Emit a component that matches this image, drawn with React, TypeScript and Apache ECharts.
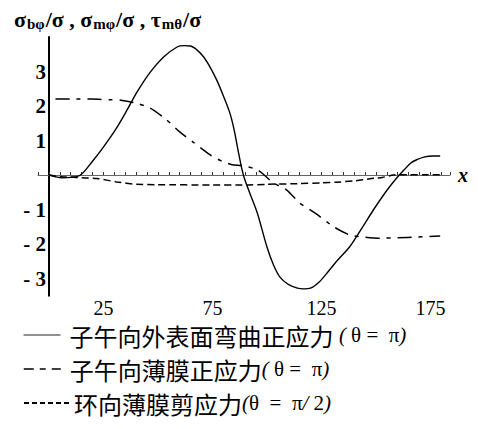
import React, { useEffect, useRef } from "react";
import * as echarts from "echarts";

// Series data
const bendX = [0, 3, 6, 10, 14.5, 20, 25, 31, 36, 40.4, 46.5, 52.6, 58.8, 62, 65, 68, 71, 74, 77, 80, 83, 85, 87, 89.2, 92, 95.6, 100, 103, 106, 110, 114, 117, 120, 124, 127.6, 132, 138, 143, 149, 155, 160, 163, 166, 169, 172, 176, 179.5];
const bendY = [0, -0.05, -0.08, -0.07, 0, 0.4, 0.81, 1.36, 1.9, 2.4, 2.98, 3.42, 3.71, 3.75, 3.74, 3.62, 3.42, 3.12, 2.75, 2.3, 1.8, 1.3, 0.64, 0, -0.5, -1.1, -2.08, -2.6, -2.96, -3.18, -3.28, -3.3, -3.28, -3.1, -2.84, -2.5, -2.08, -1.6, -1.0, -0.45, -0.05, 0.15, 0.35, 0.45, 0.52, 0.55, 0.55];

const memX = [3, 10, 20, 28, 33, 39, 46.5, 54, 60, 66, 74, 80, 84, 89, 96, 103, 109, 115, 122, 130.6, 138, 145, 152, 160, 169, 179.5];
const memY = [2.2, 2.2, 2.2, 2.18, 2.17, 2.1, 1.94, 1.6, 1.25, 0.96, 0.58, 0.38, 0.3, 0.27, 0.14, -0.23, -0.43, -0.81, -1.1, -1.5, -1.74, -1.8, -1.83, -1.82, -1.8, -1.77];

const shearX = [0, 5, 10, 15, 22, 31, 40, 50, 75, 90, 100, 114, 125, 132, 140, 146, 150, 153, 158, 165, 172, 180];
const shearY = [0, -0.05, -0.06, -0.08, -0.1, -0.2, -0.27, -0.28, -0.29, -0.29, -0.27, -0.25, -0.23, -0.21, -0.17, -0.12, -0.09, -0.07, 0, 0.01, 0.01, 0.01];

const xLabelValues = [25, 75, 125, 175];
const yLabelValues = [-3, -2, -1, 1, 2, 3];

const seriesNames = [
  "子午向外表面弯曲正应力 ( θ =  π)",
  "子午向薄膜正应力( θ =  π)",
  "环向薄膜剪应力(θ  =  π/ 2)",
];

const zip = (xs: number[], ys: number[]) => xs.map((x, i) => [x, ys[i]]);

export default function App() {
  const ref = useRef<HTMLDivElement>(null);
  useEffect(() => {
    document.body.style.margin = "0";
    const chart = echarts.init(ref.current!, undefined, { renderer: "svg" });
    const serif = "'Liberation Serif', 'DejaVu Serif', serif";
    const cjk = "'Noto Sans CJK SC', sans-serif";
    const fmt = (name: string) => {
      const idx = name.indexOf("(");
      const rest = name
        .slice(idx)
        .split("")
        .map((c) => ("()/".includes(c) ? `{ip|${c}}` : `{up|${c}}`))
        .join("");
      return `{cn|${name.slice(0, idx)}}${rest}`;
    };
    const legendRich = (pad: number) => ({
      cn: { fontFamily: cjk, fontSize: 24, color: "#000", lineHeight: 28, padding: [0, 0, 0, pad] },
      ip: { fontFamily: serif, fontStyle: "italic", fontSize: 21, color: "#000", lineHeight: 28 },
      up: { fontFamily: serif, fontSize: 21, color: "#000", lineHeight: 28 },
    });
    const legendBase = {
      left: 18,
      itemHeight: 14,
      formatter: fmt,
      itemStyle: { opacity: 0 },
    };
    const option: any = {
      animation: false,
      backgroundColor: "#fff",
      title: {
        left: 9,
        top: 2,
        text: "{s|σ}{sub|bφ}{s|/σ , σ}{sub|mφ}{s|/σ , τ}{sub|mθ}{s|/σ}",
        textStyle: {
          rich: {
            s: { fontFamily: serif, fontWeight: "bold", fontSize: 22, color: "#000", lineHeight: 24 },
            sub: { fontFamily: serif, fontWeight: "bold", fontSize: 15, color: "#000", lineHeight: 15, verticalAlign: "bottom", padding: [0, 1, 0, 1] },
          },
        },
      },
      grid: { left: 38, right: 28, top: 37, bottom: 133.25 },
      xAxis: {
        type: "value",
        min: -5,
        max: 184,
        interval: 5,
        name: "x",
        nameGap: 8,
        nameTextStyle: { fontFamily: serif, fontStyle: "italic", fontWeight: "bold", fontSize: 20, color: "#000" },
        axisLine: { onZero: true, lineStyle: { color: "#666", width: 1 } },
        axisTick: { show: true, inside: true, length: 3, lineStyle: { color: "#333" } },
        axisLabel: {
          formatter: (v: number) => (xLabelValues.includes(v) ? String(v) : ""),
          fontFamily: serif,
          fontSize: 20,
          color: "#000",
          margin: 2,
        },
        splitLine: { show: false },
      },
      yAxis: {
        type: "value",
        min: -3.5,
        max: 4,
        interval: 0.5,
        axisLine: { show: true, onZero: true, lineStyle: { color: "#000", width: 2 } },
        axisTick: { show: false },
        axisLabel: {
          formatter: (v: number) => (yLabelValues.includes(v) ? (v < 0 ? "- " + -v : String(v)) : ""),
          fontFamily: serif,
          fontWeight: "bold",
          fontSize: 21,
          color: "#000",
          margin: -8,
        },
        splitLine: { show: false },
      },
      legend: [
        {
          ...legendBase,
          data: [seriesNames[0]], top: 318, itemWidth: 37,
          lineStyle: { width: 1, color: "#222" },
          textStyle: { rich: legendRich(4) },
        },
        {
          ...legendBase,
          data: [seriesNames[1]], top: 352, itemWidth: 37,
          lineStyle: { width: 1.5, type: [10, 6, 6, 6] },
          textStyle: { rich: legendRich(4) },
        },
        {
          ...legendBase,
          data: [seriesNames[2]], top: 386, itemWidth: 45,
          lineStyle: { width: 2, type: [5, 3] },
          textStyle: { rich: legendRich(0) },
        },
      ],
      series: [
        {
          name: seriesNames[0], type: "line", data: zip(bendX, bendY), symbol: "none", smooth: 0.3,
          lineStyle: { color: "#000", width: 1.4, type: "solid" }, itemStyle: { color: "#000" },
        },
        {
          name: seriesNames[1], type: "line", data: zip(memX, memY), symbol: "none", smooth: 0.2,
          lineStyle: { color: "#000", width: 1.5, type: [14, 7, 4, 7] }, itemStyle: { color: "#000" },
        },
        {
          name: seriesNames[2], type: "line", data: zip(shearX, shearY), symbol: "none", smooth: 0.2,
          lineStyle: { color: "#000", width: 1.5, type: [7, 4] }, itemStyle: { color: "#000" },
        },
      ],
    };
    chart.setOption(option);
    return () => chart.dispose();
  }, []);
  return <div ref={ref} style={{ width: 478, height: 429 }} />;
}
